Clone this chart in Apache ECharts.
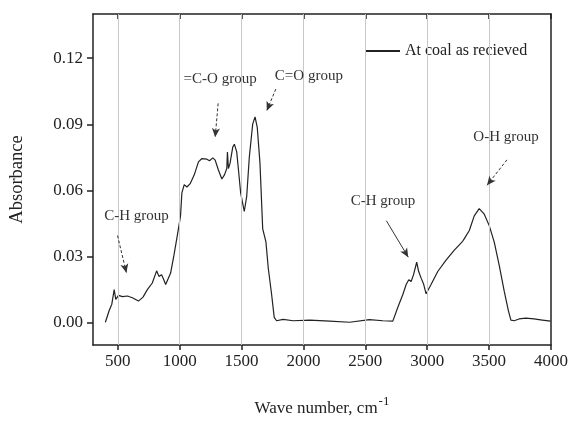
<!DOCTYPE html>
<html>
<head>
<meta charset="utf-8">
<script src="https://cdn.jsdelivr.net/npm/echarts@6/dist/echarts.min.js"></script>
<style>
  html, body { margin: 0; padding: 0; background: #fff; }
  #chart { width: 571px; height: 422px; }
</style>
</head>
<body>
<div id="chart"></div>
<script>
// wave number (cm-1) and absorbance
var waveNumber = [400, 430, 452, 471, 484, 506, 538, 578, 618, 667, 704, 739, 779, 814, 833, 854, 866, 887, 900, 927,
  954, 981, 1007, 1018, 1037, 1059, 1085, 1118, 1152, 1180, 1220, 1241, 1268, 1287, 1313, 1341, 1362, 1381, 1386, 1394,
  1407, 1429, 1442, 1461, 1474, 1493, 1510, 1522, 1542, 1563, 1590, 1609, 1627, 1649, 1671, 1697, 1716, 1743, 1764, 1783,
  1836, 1917, 2051, 2212, 2373, 2534, 2642, 2722, 2762, 2803, 2830, 2851, 2870, 2889, 2915, 2931, 2951, 2972, 2991, 3031,
  3085, 3152, 3219, 3286, 3300, 3340, 3380, 3420, 3461, 3501, 3541, 3581, 3622, 3656, 3676, 3702, 3742, 3796, 3863, 3930, 3997];
var absorbance = [0.0003, 0.0055, 0.0085, 0.0151, 0.0107, 0.0125, 0.0119, 0.0122, 0.0114, 0.0099, 0.0117, 0.0151, 0.0181, 0.0236, 0.0211, 0.0218, 0.0204, 0.0174, 0.018, 0.0226,
  0.0307, 0.0396, 0.0485, 0.0589, 0.0627, 0.0616, 0.0631, 0.0671, 0.073, 0.0745, 0.0742, 0.0735, 0.0748, 0.0738, 0.0693, 0.0652, 0.0671, 0.07, 0.0775, 0.07,
  0.0723, 0.0797, 0.081, 0.0775, 0.07, 0.0589, 0.054, 0.0505, 0.0575, 0.0753, 0.0901, 0.0934, 0.0886, 0.0723, 0.0426, 0.0367, 0.0248, 0.0129, 0.0025, 0.001,
  0.0016, 0.001, 0.0013, 0.0008, 0.0003, 0.0015, 0.001, 0.0008, 0.007, 0.0129, 0.0174, 0.0196, 0.0188, 0.0218, 0.0275, 0.0233, 0.0203, 0.0174, 0.0132, 0.0174,
  0.0233, 0.0285, 0.033, 0.037, 0.0382, 0.0419, 0.0485, 0.0518, 0.0493, 0.0441, 0.0367, 0.0263, 0.0144, 0.0055, 0.0013, 0.001, 0.0018, 0.0022, 0.0018, 0.0013, 0.0008];

var xTicks = [500, 1000, 1500, 2000, 2500, 3000, 3500, 4000];
var xGrid = [500, 1000, 1500, 2000, 2500, 3000, 3500];
var yTicks = [0, 0.03, 0.06, 0.09, 0.12];

// group labels: [text, x, y]
var groupLabels = [
  ['=C-O group', 1327, 0.1105],
  ['C=O group', 2044, 0.1118],
  ['C-H group', 651, 0.0486],
  ['C-H group', 2643, 0.0552],
  ['O-H group', 3637, 0.0842]
];
// arrows: [x0, y0, x1, y1, dashed]
var arrows = [
  [1311, 0.0995, 1287, 0.0842, true],
  [1777, 0.1060, 1704, 0.0962, true],
  [498, 0.0396, 570, 0.0227, true],
  [2670, 0.0463, 2847, 0.0298, false],
  [3644, 0.0739, 3483, 0.0624, true]
];

var serif = '"Liberation Serif", "DejaVu Serif", serif';
var myChart = echarts.init(document.getElementById('chart'));

var frameLine = { onZero: false, lineStyle: { color: '#222', width: 1.5 } };

var option = {
  backgroundColor: '#fff',
  animation: false,
  textStyle: { fontFamily: serif },
  grid: { left: 92, top: 14, right: 19, bottom: 70 },
  legend: {
    left: 361,
    top: 38,
    itemWidth: 34,
    itemHeight: 2,
    itemGap: 5,
    icon: 'rect',
    data: ['At coal as recieved'],
    textStyle: { fontFamily: serif, fontSize: 16, color: '#222' }
  },
  xAxis: [
    {
      type: 'value',
      min: 300,
      max: 4000,
      name: '{a|Wave number, cm}{b|-1}',
      nameLocation: 'middle',
      nameGap: 50,
      nameTextStyle: {
        rich: {
          a: { fontFamily: serif, fontSize: 17, color: '#222' },
          b: { fontFamily: serif, fontSize: 13, color: '#222', padding: [0, 0, 14, 1] }
        }
      },
      axisLine: frameLine,
      axisTick: { show: true, inside: false, length: 5, customValues: xTicks, lineStyle: { color: '#222', width: 1.5 } },
      axisLabel: {
        customValues: xTicks,
        margin: 8,
        fontFamily: serif,
        fontSize: 17,
        color: '#222',
        formatter: function (v) { return String(v); }
      },
      splitLine: { show: false }
    },
    {
      type: 'value',
      position: 'top',
      min: 300,
      max: 4000,
      axisLine: { show: true, onZero: false, lineStyle: { color: '#222', width: 1.5 } },
      axisTick: { show: true, inside: true, length: 5, customValues: xTicks, lineStyle: { color: '#222', width: 1.5 } },
      axisLabel: { show: false },
      splitLine: { show: false }
    }
  ],
  yAxis: [
    {
      type: 'value',
      min: -0.01,
      max: 0.14,
      name: 'Absorbance',
      nameLocation: 'middle',
      nameGap: 66,
      nameTextStyle: { fontFamily: serif, fontSize: 18.5, color: '#222' },
      axisLine: { show: true, onZero: false, lineStyle: { color: '#222', width: 1.5 } },
      axisTick: { show: true, inside: false, length: 6, customValues: yTicks, lineStyle: { color: '#222', width: 1.5 } },
      axisLabel: {
        customValues: yTicks,
        margin: 10,
        fontFamily: serif,
        fontSize: 17,
        color: '#222',
        formatter: function (v) { return v.toFixed(2); }
      },
      splitLine: { show: false }
    },
    {
      type: 'value',
      position: 'right',
      min: -0.01,
      max: 0.14,
      axisLine: { show: true, onZero: false, lineStyle: { color: '#222', width: 1.5 } },
      axisTick: { show: false },
      axisLabel: { show: false },
      splitLine: { show: false }
    }
  ],
  series: [
    {
      name: 'grid',
      type: 'line',
      data: [],
      silent: true,
      markLine: {
        silent: true,
        symbol: 'none',
        label: { show: false },
        lineStyle: { color: '#c8c8c8', width: 1, type: 'solid' },
        data: xGrid.map(function (v) { return { xAxis: v }; })
      }
    },
    {
      name: 'At coal as recieved',
      type: 'line',
      data: waveNumber.map(function (x, i) { return [x, absorbance[i]]; }),
      showSymbol: false,
      smooth: false,
      color: '#222',
      lineStyle: { color: '#222', width: 1.2 },
      markPoint: {
        symbol: 'circle',
        symbolSize: 0,
        label: {
          show: true,
          position: 'inside',
          fontFamily: serif,
          fontSize: 15,
          color: '#333',
          formatter: function (p) { return p.name; }
        },
        data: groupLabels.map(function (g) { return { name: g[0], coord: [g[1], g[2]] }; })
      },
      markLine: {
        silent: true,
        symbol: ['none', 'arrow'],
        symbolSize: [6, 9],
        label: { show: false },
        data: arrows.map(function (a) {
          return [
            { coord: [a[0], a[1]], lineStyle: { color: '#333', width: 1, type: a[4] ? [3, 2] : 'solid' } },
            { coord: [a[2], a[3]] }
          ];
        })
      }
    }
  ]
};

myChart.setOption(option);
window.onresize = function () { myChart.resize(); };
</script>
</body>
</html>
